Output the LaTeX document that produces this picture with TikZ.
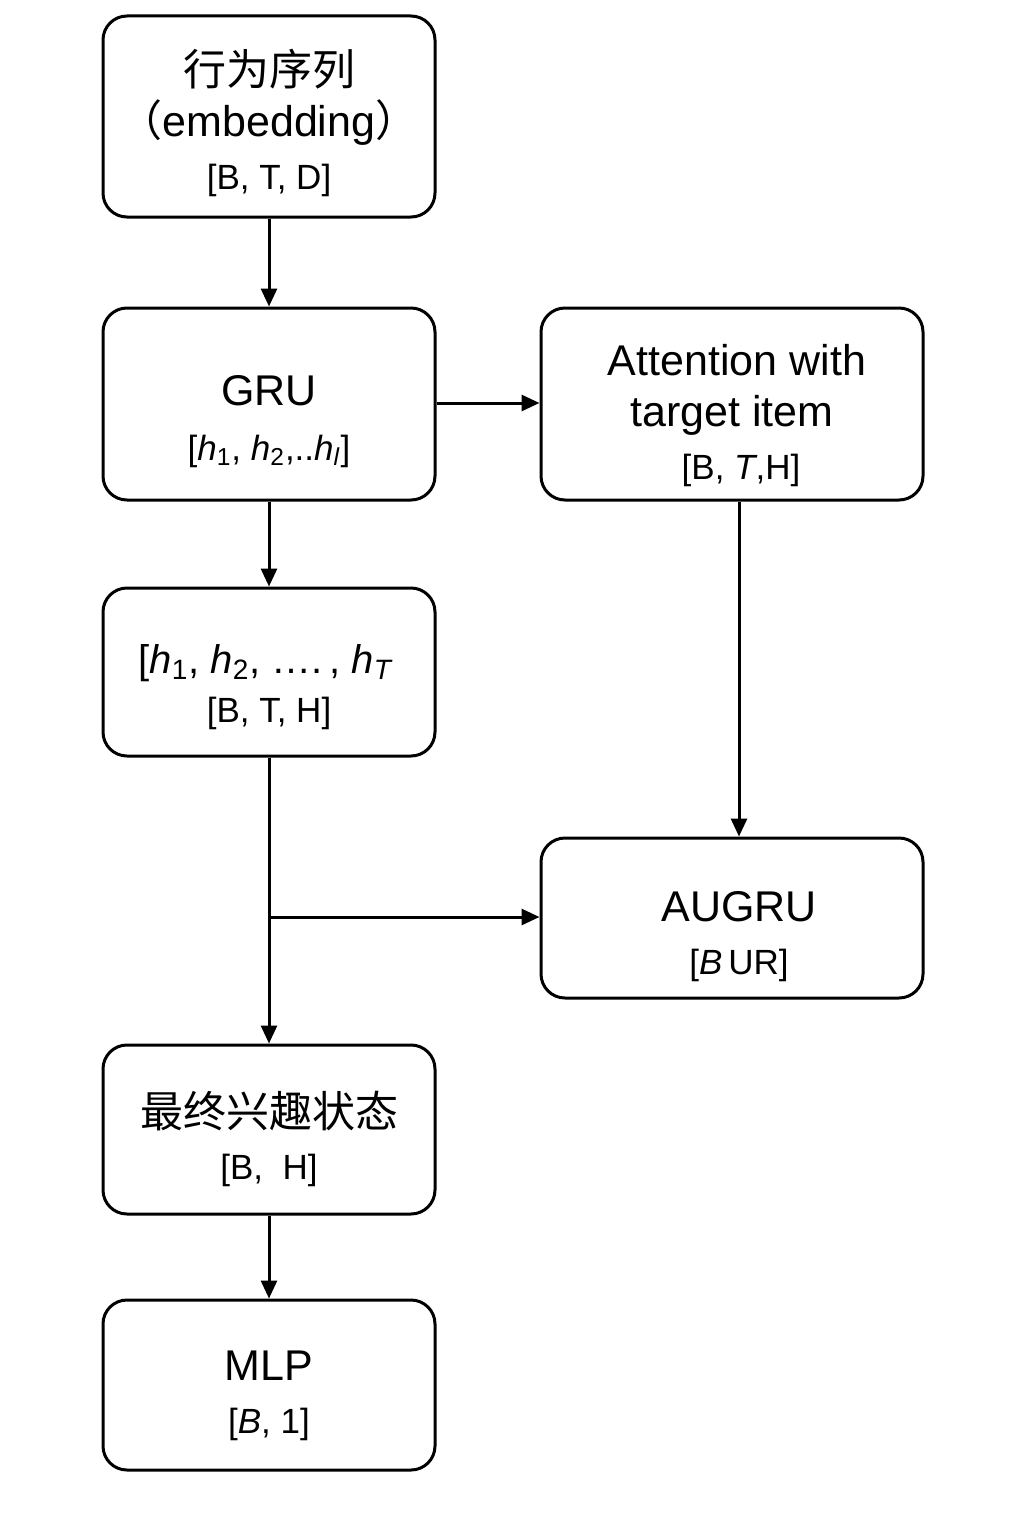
\documentclass[tikz,border=0pt]{standalone}
\usepackage{fontspec}
\setmainfont{Liberation Sans}
\newfontfamily\cjk{Noto Sans CJK SC}
\usetikzlibrary{arrows.meta}
\tikzset{
  box/.style={draw, line width=1.5pt, rounded corners=12pt, fill=white, inner sep=0pt, align=center},
  lbl/.style={inner sep=0pt, anchor=base},
  big/.style={font=\fontsize{21.5}{24}\selectfont},
  small/.style={font=\fontsize{17.5}{20}\selectfont},
  arr/.style={line width=1.5pt, -{Triangle[length=9pt,width=8pt]}},
  ln/.style={line width=1.5pt}
}
\begin{document}
\begin{tikzpicture}[x=0.5pt,y=-0.5pt]
\useasboundingbox (0,0) rectangle (1024,1536);
% boxes
\node[box, minimum width=166pt, minimum height=100.5pt] (seq) at (269,116.5) {};
\node[box, minimum width=166pt, minimum height=96pt] (gru) at (269,404) {};
\node[box, minimum width=166pt, minimum height=84pt] (hs) at (269,672) {};
\node[box, minimum width=166pt, minimum height=84.5pt] (fin) at (269,1129.5) {};
\node[box, minimum width=166pt, minimum height=85pt] (mlp) at (269,1385) {};
\node[box, minimum width=191pt, minimum height=96pt] (att) at (732,404) {};
\node[box, minimum width=191pt, minimum height=80pt] (aug) at (732,918) {};
% labels (baselines)
\node[lbl, big] (t1) at (269,86) {\cjk 行为序列};
\node[lbl, big] (t2) at (269,137) {\cjk （\rmfamily embedding\cjk ）};
\node[lbl, small] (t3) at (269,189) {[B, T, D]};
\node[lbl, big] (g1) at (269,405) {GRU};
\node[lbl, small] (g2) at (269,460) {[\textit{h}\textsubscript{1}, \textit{h}\textsubscript{2},..\textit{h}\textsubscript{\textit{l}}]};
\node[lbl, big] (a1) at (737,375) {Attention with};
\node[lbl, big] (a2) at (732,426) {target item};
\node[lbl, small] (a3) at (741,479) {[B, \textit{T},H]};
\node[lbl, font=\fontsize{20}{23}\selectfont] (h1) at (266,673) {[\textit{h}\textsubscript{1}, \textit{h}\textsubscript{2}, \dots.\,, \textit{h}\textsubscript{\textit{T}}};
\node[lbl, small] (h2) at (269,722) {[B, T, H]};
\node[lbl, big] (u1) at (739,921) {AUGRU};
\node[lbl, small] (u2) at (739,974) {[\textit{B}\,UR]};
\node[lbl, big] (f1) at (269,1127) {\cjk 最终兴趣状态};
\node[lbl, small] (f2) at (269,1179) {[B,~~H]};
\node[lbl, big] (m1) at (269,1380) {MLP};
\node[lbl, small] (m2) at (269,1433) {[\textit{B}, 1]};
% connectors
\draw[arr] (seq.south) -- (gru.north);
\draw[arr] (gru.south) -- (hs.north);
\draw[arr] (gru.east |- 0,403) -- (att.west |- 0,403);
\draw[arr] (att.south -| 739,0) -- (aug.north -| 739,0);
\coordinate (br) at (269,917);
\draw[arr] (hs.south) -- (fin.north);
\draw[arr] (br) -- (aug.west |- br);
\draw[arr] (fin.south) -- (mlp.north);
\end{tikzpicture}
\end{document}
